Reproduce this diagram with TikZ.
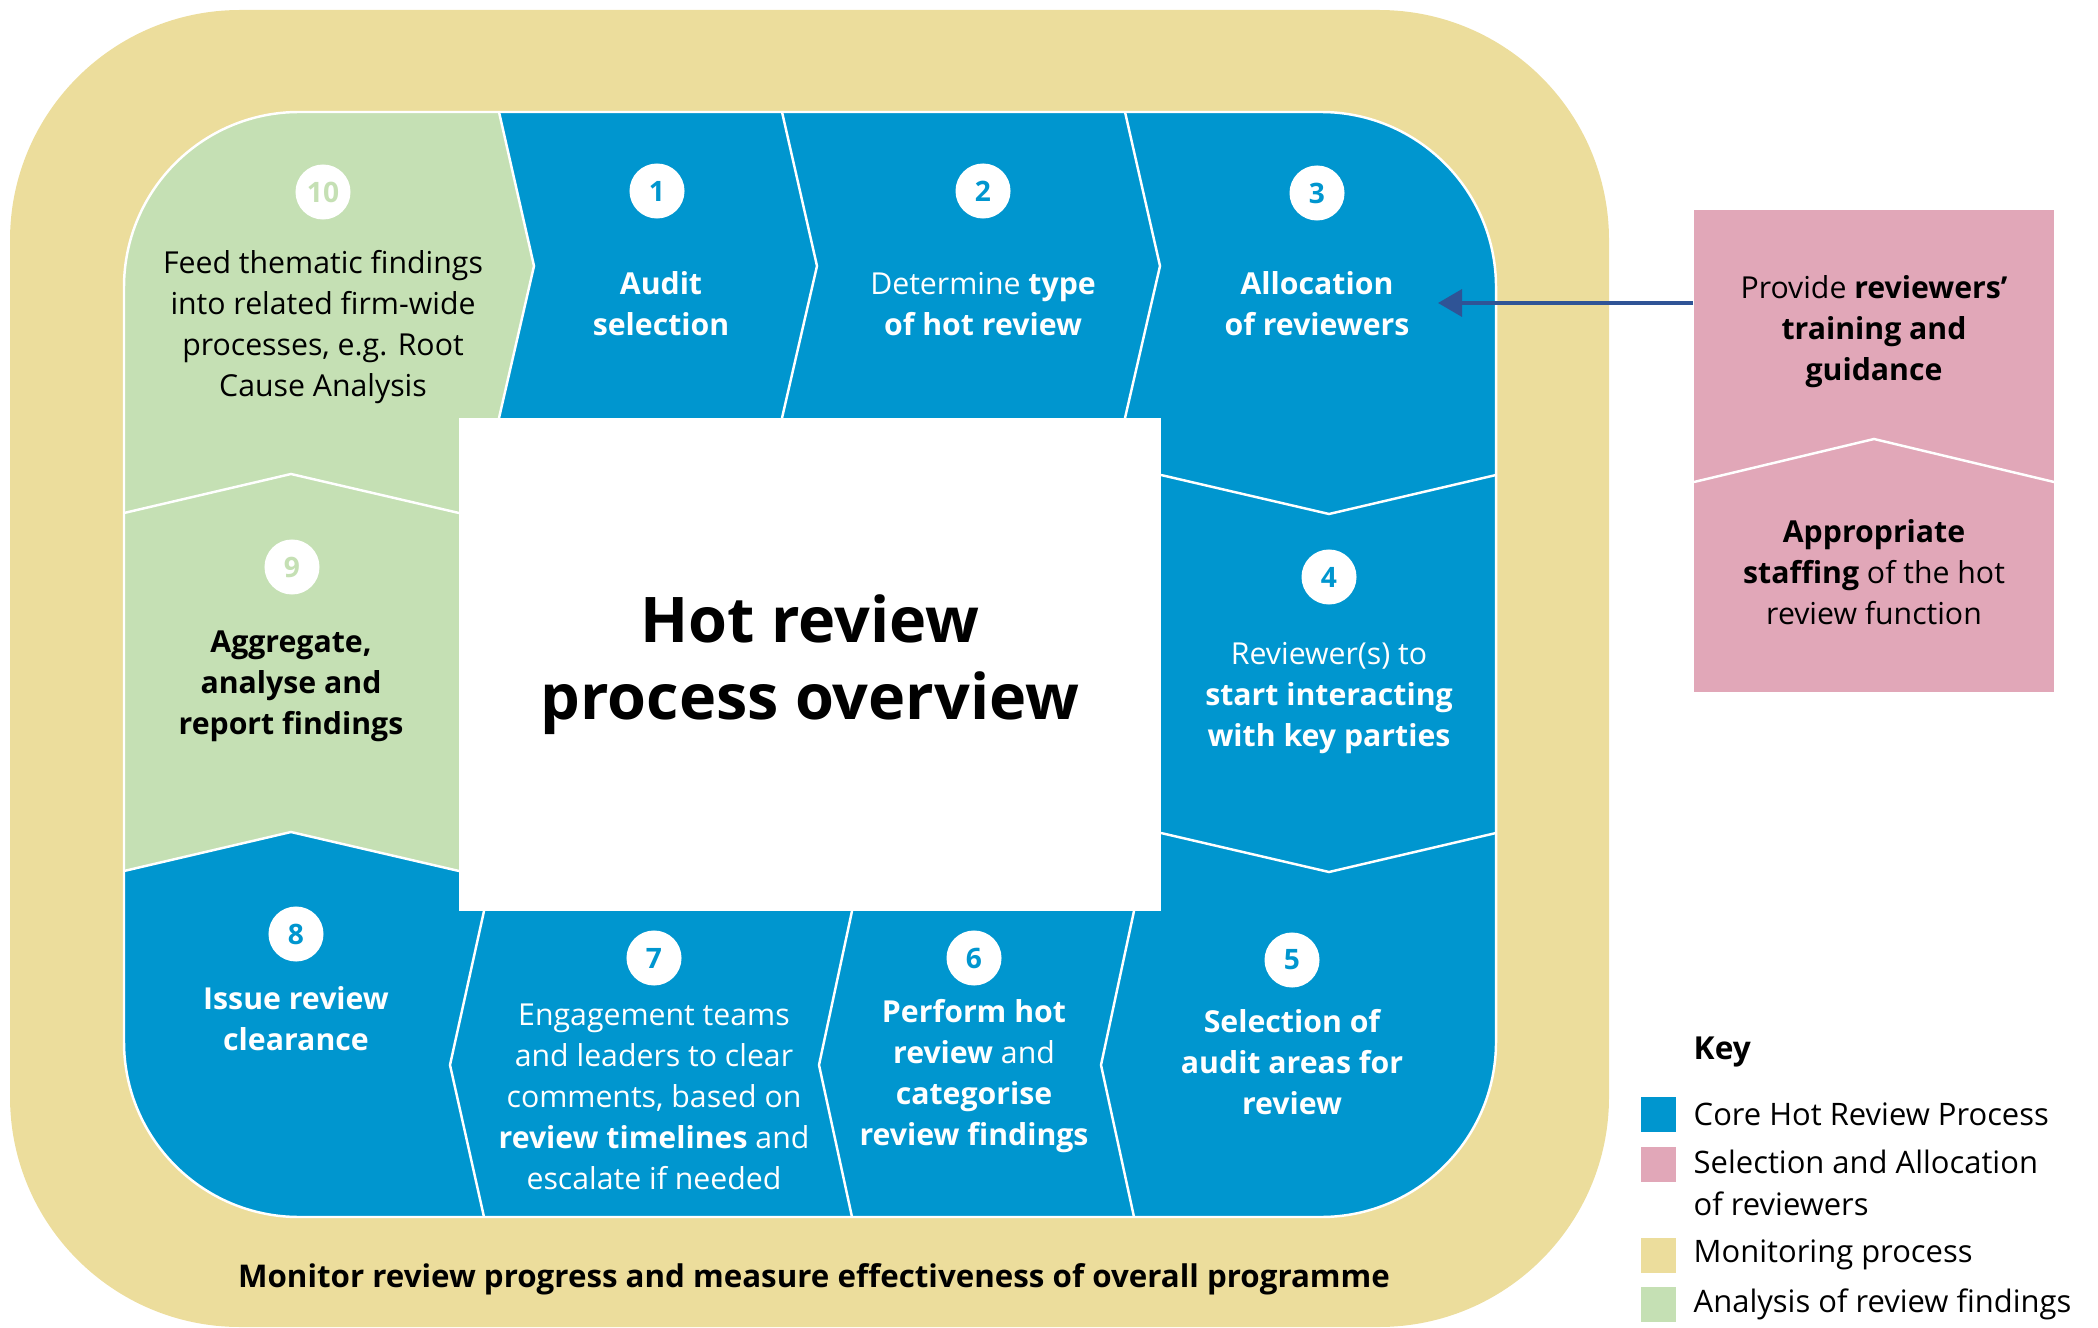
\documentclass[tikz,border=0pt]{standalone}
\usepackage{fontspec}
\setmainfont{Open Sans}
\usetikzlibrary{arrows.meta}
\definecolor{hotblue}{RGB}{0,150,207}
\definecolor{findgreen}{RGB}{197,224,180}
\definecolor{monitortan}{RGB}{236,221,156}
\definecolor{allocpink}{RGB}{225,167,184}
\definecolor{arrowblue}{RGB}{47,84,150}
\newcommand{\bodyfont}{\fontsize{8.6}{11.7}\selectfont}
\tikzset{
  badge/.style={circle, fill=white, minimum size=0.55cm, inner sep=0pt, font=\fontsize{8}{8}\selectfont\bfseries},
  steptext/.style={align=center, inner sep=0pt, font=\bodyfont},
  sepline/.style={white, line width=0.7pt},
  keybox/.style={minimum width=0.35cm, minimum height=0.35cm, inner sep=0pt},
  keytext/.style={anchor=west, align=left, inner sep=0pt, font=\fontsize{8.8}{11.9}\selectfont},
}

\begin{document}
\begin{tikzpicture}[x=0.01cm, y=-0.01cm]
	\useasboundingbox (0,0) rectangle (2098,1328);
	\fill[monitortan, rounded corners=2.3cm] (10,10) rectangle (1609,1327);
	\begin{scope}
		\clip[rounded corners=1.75cm] (124,112) rectangle (1496,1217);
		\fill[hotblue] (124,112) rectangle (1496,1217);
		\fill[findgreen] (124,112) -- (499,112) -- (534,266) -- (499,418) -- (459,418) -- (459,871) -- (291,832) -- (124,871) -- cycle;
		\draw[sepline] (499,112) -- (534,266) -- (499,418);
		\draw[sepline] (782,112) -- (817,266) -- (782,418);
		\draw[sepline] (1125,112) -- (1160,266) -- (1125,418);
		\draw[sepline] (1161,475) -- (1329,514) -- (1496,475);
		\draw[sepline] (1161,833) -- (1329,872) -- (1496,833);
		\draw[sepline] (1134,911) -- (1101,1065) -- (1134,1217);
		\draw[sepline] (852,911) -- (819,1065) -- (852,1217);
		\draw[sepline] (484,911) -- (450,1065) -- (484,1217);
		\draw[sepline] (124,871) -- (291,832) -- (459,871);
		\draw[sepline] (124,513) -- (291,474) -- (459,513);
	\end{scope}
	\draw[sepline, rounded corners=1.75cm] (124,112) rectangle (1496,1217);
	\node[fill=white, minimum width=7.02cm, minimum height=4.93cm, align=center, font=\fontsize{17.9}{21.9}\selectfont\bfseries] (title) at (810,664.5) {Hot review\\process overview};

	\node[badge, text=findgreen] (n10) at (323,192) {10};
	\node[badge, text=hotblue] (n1) at (657,191) {1};
	\node[badge, text=hotblue] (n2) at (983,191) {2};
	\node[badge, text=hotblue] (n3) at (1317,193) {3};
	\node[badge, text=hotblue] (n4) at (1329,577) {4};
	\node[badge, text=hotblue] (n5) at (1292,960) {5};
	\node[badge, text=hotblue] (n6) at (974,958) {6};
	\node[badge, text=hotblue] (n7) at (654,958) {7};
	\node[badge, text=hotblue] (n8) at (296,934) {8};
	\node[badge, text=findgreen] (n9) at (292,567) {9};

	\node[steptext] (s10) at (323,327) {Feed thematic findings\\into related firm-wide\\processes, e.g. Root\\Cause Analysis};
	\node[steptext, white, font=\bodyfont\bfseries] (s1) at (661,304) {Audit\\selection};
	\node[steptext, white] (s2) at (983,304) {Determine \textbf{type}\\\textbf{of hot review}};
	\node[steptext, white, font=\bodyfont\bfseries] (s3) at (1317,304) {Allocation\\of reviewers};
	\node[steptext, white] (s4) at (1329,698) {Reviewer(s) to\\\textbf{start interacting}\\\textbf{with key parties}};
	\node[steptext, white, font=\bodyfont\bfseries] (s5) at (1292,1062) {Selection of\\audit areas for\\review};
	\node[steptext, white] (s6) at (974,1076) {\textbf{Perform hot}\\\textbf{review} and\\\textbf{categorise}\\\textbf{review findings}};
	\node[steptext, white] (s7) at (654,1097) {Engagement teams\\and leaders to clear\\comments, based on\\\textbf{review timelines} and\\escalate if needed};
	\node[steptext, white, font=\bodyfont\bfseries] (s8) at (296,1019) {Issue review\\clearance};
	\node[steptext, font=\bodyfont\bfseries] (s9) at (291,686) {Aggregate,\\analyse and\\report findings};

	\node[fill=allocpink, minimum width=3.6cm, minimum height=4.82cm, inner sep=0pt] (pink) at (1874,451) {};
	\draw[sepline] (1694,482) -- (1874,439) -- (2054,482);
	\node[steptext] (train) at (1874,332) {Provide \textbf{reviewers’}\\\textbf{training and}\\\textbf{guidance}};
	\node[steptext] (staff) at (1874,572) {\textbf{Appropriate}\\\textbf{staffing} of the hot\\review function};
	\coordinate (tip) at (1438,303);
	\draw[arrowblue, line width=1pt, -{Triangle[length=0.24cm, width=0.27cm]}] (pink.west |- tip) -- (tip);

	\node[inner sep=0pt, font=\fontsize{8.9}{11}\selectfont\bfseries] (monitor) at (814,1279) {Monitor review progress and measure effectiveness of overall programme};

	\node[anchor=west, inner sep=0pt, font=\fontsize{9}{11}\selectfont\bfseries] (key) at (1693,1052) {Key};
	\node[keybox, fill=hotblue] (kcore) at (1658,1114) {};
	\node[keybox, fill=allocpink] (kalloc) at (1658,1164) {};
	\node[keybox, fill=monitortan] (kmon) at (1658,1255) {};
	\node[keybox, fill=findgreen] (kfind) at (1658,1304) {};
	\node[keytext] (tcore) at (1693,1114) {Core Hot Review Process};
	\node[keytext, anchor=north west] (talloc) at (1693,1149) {Selection and Allocation\\of reviewers};
	\node[keytext] (tmon) at (1693,1255) {Monitoring process};
	\node[keytext] (tfind) at (1693,1304) {Analysis of review findings};
\end{tikzpicture}
\end{document}
